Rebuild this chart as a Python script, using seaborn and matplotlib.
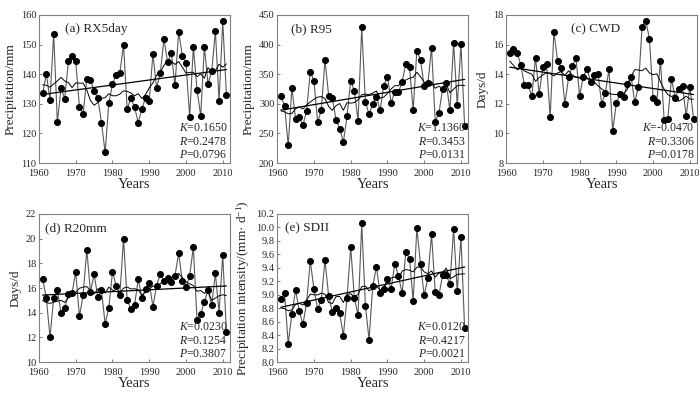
import numpy as np
import pandas as pd
import seaborn as sns
import matplotlib.pyplot as plt
from matplotlib.ticker import FormatStrFormatter

years = list(range(1961, 2012))

rx5day = [133.5, 140.1, 131.3, 153.6, 123.8, 135.3, 131.7, 144.3, 146.0, 144.3,
          129.1, 126.5, 138.4, 138.2, 134.3, 132.0, 123.7, 113.6, 130.2, 136.7,
          139.8, 140.4, 150.0, 128.2, 131.9, 128.9, 123.7, 128.3, 132.1, 131.0,
          146.9, 135.3, 140.4, 151.8, 144.1, 147.2, 136.2, 154.4, 146.3, 143.9,
          125.5, 149.2, 134.8, 126.0, 149.3, 136.7, 141.0, 154.6, 131.0, 157.8,
          133.1]

r95 = [312.9, 297.2, 229.8, 327.5, 274.2, 277.5, 264.0, 288.2, 354.5, 338.8,
       269.1, 289.3, 374.2, 314.0, 309.6, 273.3, 258.2, 235.4, 279.0, 339.4,
       321.6, 271.6, 429.0, 303.6, 282.1, 300.0, 312.4, 289.0, 330.9, 346.1,
       302.0, 320.8, 319.4, 337.6, 367.7, 362.1, 289.0, 389.6, 373.9, 329.8,
       334.8, 394.9, 270.2, 284.3, 324.7, 335.9, 288.8, 403.4, 297.8, 400.6,
       262.9]

cwd = [15.42, 15.69, 15.42, 14.63, 13.24, 13.24, 12.52, 15.12, 12.67, 14.47,
       14.72, 11.08, 16.88, 14.92, 14.45, 12.00, 13.78, 14.54, 15.12, 12.56,
       13.84, 14.36, 13.50, 13.93, 14.02, 12.02, 12.72, 14.34, 10.18, 12.04,
       12.67, 12.49, 13.35, 13.84, 12.11, 13.15, 17.17, 17.62, 16.40, 12.40,
       12.11, 14.90, 10.94, 11.01, 13.71, 12.38, 13.01, 13.19, 11.19, 13.17,
       10.99]

r20mm = [16.7, 15.2, 12.0, 15.2, 15.8, 14.0, 14.4, 15.5, 15.6, 17.3,
         13.7, 15.4, 19.1, 15.7, 17.1, 15.3, 15.8, 13.1, 14.4, 17.3,
         16.2, 15.4, 20.0, 15.0, 14.3, 14.6, 16.7, 15.2, 15.9, 16.4,
         14.5, 16.2, 17.1, 16.6, 16.8, 16.5, 17.0, 18.8, 16.6, 16.1,
         17.0, 19.3, 13.4, 13.9, 14.9, 15.8, 14.6, 17.2, 14.0, 18.7,
         12.4]

sdii = [8.93, 9.02, 8.27, 8.72, 9.07, 8.76, 8.56, 8.88, 9.50, 9.08,
        8.79, 8.92, 9.52, 8.98, 8.75, 8.80, 8.73, 8.39, 8.95, 9.71,
        8.95, 8.70, 10.06, 8.84, 8.33, 9.13, 9.41, 9.02, 9.09, 9.24,
        9.09, 9.46, 9.28, 9.02, 9.64, 9.53, 8.91, 9.99, 9.45, 8.99,
        9.25, 9.90, 9.04, 8.99, 9.29, 9.29, 9.16, 9.98, 9.05, 9.86,
        8.50]

panels = [
    ('(a) RX5day', rx5day, 'Precipitation/mm', (110, 160), np.arange(110, 161, 10),
     ['0.1650', '0.2478', '0.0796'], [0.0557, 0.586], (0.135, 0.905, 'left')),
    ('(b) R95', r95, 'Precipitation/mm', (200, 450), np.arange(200, 451, 50),
     ['1.1360', '0.3453', '0.0131'], [0.396, 0.586], (0.07, 0.905, 'left')),
    ('(c) CWD', cwd, 'Days/d', (8, 18), np.arange(8, 19, 2),
     ['-0.0470', '0.3306', '0.0178'], [0.723, 0.586], (0.47, 0.905, 'center')),
    ('(d) R20mm', r20mm, 'Days/d', (10, 22), np.arange(10, 23, 2),
     ['0.0230', '0.1254', '0.3807'], [0.0557, 0.081], (0.03, 0.905, 'left')),
    ('(e) SDII', sdii, 'Precipitation intensity/(mm· d$^{-1}$)', (8.0, 10.2),
     np.arange(8.0, 10.21, 0.2),
     ['0.0120', '0.4217', '0.0021'], [0.396, 0.081], (0.04, 0.905, 'left')),
]

sns.set_theme(style='ticks')
plt.rcParams['font.family'] = ['Liberation Serif', 'DejaVu Serif']
plt.rcParams['mathtext.fontset'] = 'custom'
plt.rcParams['mathtext.rm'] = 'Liberation Serif'
plt.rcParams['mathtext.it'] = 'Liberation Serif:italic'

fig = plt.figure(figsize=(7, 3.94), dpi=100)

for title, vals, ylabel, ylim, yticks, stats, (left, bottom), (tx, ty, tha) in panels:
    ax = fig.add_axes([left, bottom, 0.273, 0.376])
    df = pd.DataFrame({'year': years, 'value': vals})
    # 9-year centred running mean
    df['smooth'] = df['value'].rolling(9, center=True, min_periods=1).mean()

    sns.lineplot(data=df, x='year', y='value', color='0.35', lw=0.8, marker='o',
                 markersize=4.3, markerfacecolor='black', markeredgecolor='black', ax=ax)
    sns.lineplot(data=df, x='year', y='smooth', color='black', lw=0.7, ax=ax)
    sns.regplot(data=df, x='year', y='value', scatter=False, ci=None, color='black',
                line_kws={'lw': 0.9}, ax=ax)

    ax.set_xlim(1960, 2012)
    ax.set_xticks(range(1960, 2011, 10))
    ax.set_ylim(*ylim)
    ax.set_yticks(yticks)
    if title.startswith('(e)'):
        ax.yaxis.set_major_formatter(FormatStrFormatter('%.1f'))
    ax.tick_params(direction='in', labelsize=7.5, length=2.5, width=0.6, color='0.4')
    ax.tick_params(axis='x', pad=4)
    ax.tick_params(axis='y', pad=2)
    for sp in ax.spines.values():
        sp.set_visible(True)
        sp.set_color('0.5')
        sp.set_linewidth(0.8)
    ax.set_xlabel('Years', fontsize=10.5, labelpad=0)
    ax.set_ylabel(ylabel, fontsize=9.5, labelpad=3)

    ax.text(tx, ty, title, transform=ax.transAxes, fontsize=9.5, ha=tha, va='center')
    for i, (name, val) in enumerate(zip(['K', 'R', 'P'], stats)):
        ax.text(0.985, 0.238 - i * 0.093, f'$\\mathit{{{name}}}$={val}', transform=ax.transAxes,
                fontsize=8.5, ha='right', va='center')

fig.savefig('out.png', dpi=100)
